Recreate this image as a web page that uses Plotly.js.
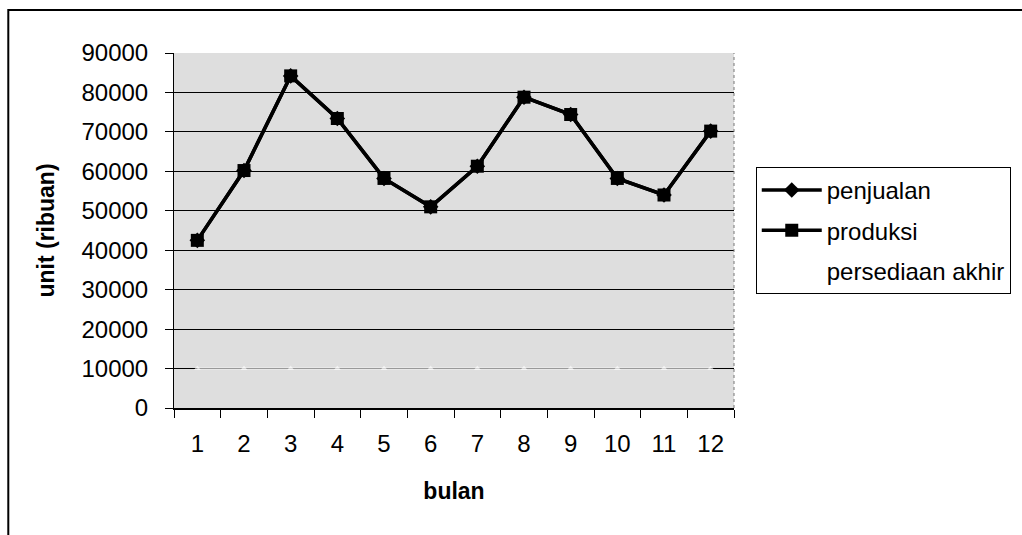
<!DOCTYPE html>
<html><head><meta charset="utf-8">
<script src="https://cdn.plot.ly/plotly-3.0.1.min.js"></script>
<style>body{margin:0;background:#fff}#c{width:1022px;height:535px}</style>
</head><body><div id="c"></div>
<script>
const months = ['1','2','3','4','5','6','7','8','9','10','11','12'];
const penjualan = [42500, 60200, 84200, 73400, 58200, 51000, 61300, 78800, 74400, 58200, 54000, 70200];
const produksi = [42500, 60200, 84200, 73400, 58200, 51000, 61300, 78800, 74400, 58200, 54000, 70200];
const persediaanAkhir = [10000, 10000, 10000, 10000, 10000, 10000, 10000, 10000, 10000, 10000, 10000, 10000];
const yTicks = [0,10000,20000,30000,40000,50000,60000,70000,80000,90000];

const F = 'Arial, "Liberation Sans", sans-serif';
const traces = [
  {x: months, y: penjualan, name: 'penjualan', legendgroup: 'a', type: 'scatter', mode: 'lines+markers',
   line: {color: '#000', width: 3.5}, marker: {symbol: 'diamond', size: 12, color: '#000'}},
  {x: months, y: produksi, name: 'produksi', legendgroup: 'b', type: 'scatter', mode: 'lines+markers',
   line: {color: '#000', width: 3.5}, marker: {symbol: 'square', size: 13, color: '#000'}},
  {x: months, y: persediaanAkhir, name: 'persediaan akhir', legendgroup: 'c', type: 'scatter', mode: 'lines+markers',
   line: {color: 'rgba(255,255,255,0.6)', width: 2}, marker: {symbol: 'triangle-up', size: 6, color: 'rgba(255,255,255,0.6)'}}
];
const layout = {
  width: 1022, height: 535,
  margin: {l: 174, r: 287, t: 53, b: 127},
  paper_bgcolor: '#fff', plot_bgcolor: '#dedede',
  font: {family: F, size: 24, color: '#000'},
  showlegend: true,
  legend: {x: 1.037, y: 0.679, xanchor: 'left', yanchor: 'top', bgcolor: '#fff',
           bordercolor: '#000', borderwidth: 1, font: {family: F, size: 24, color: '#000'},
           itemwidth: 60, traceorder: 'grouped', tracegroupgap: 6},
  xaxis: {type: 'category', tickson: 'boundaries', ticks: 'outside', ticklen: 8, tickcolor: '#000',
          showline: true, linecolor: '#000', linewidth: 2, showgrid: false, zeroline: false,
          range: [-0.5, 11.5], tickfont: {family: F, size: 24}, ticklabelstandoff: 13,
          title: {text: '<b>bulan</b>', font: {family: F, size: 23}, standoff: 27}},
  yaxis: {range: [0, 90000], tickvals: yTicks, ticktext: yTicks.map(String), ticks: 'outside', ticklen: 8,
          tickcolor: '#000', showline: true, linecolor: '#000', linewidth: 1, showgrid: true,
          gridcolor: '#000', gridwidth: 1, zeroline: false, tickfont: {family: F, size: 24},
          ticklabelstandoff: 12,
          title: {text: '<b>unit (ribuan)</b>', font: {family: F, size: 23}, standoff: 20}},
  shapes: [
    {type: 'rect', xref: 'paper', yref: 'paper', x0: -0.2959, x1: 1.7, y0: -0.6, y1: 1.121,
     line: {color: '#000', width: 2}, fillcolor: 'rgba(0,0,0,0)', layer: 'below'},
    {type: 'line', xref: 'paper', yref: 'paper', x0: 1, x1: 1, y0: 0, y1: 1,
     line: {color: '#777', width: 1, dash: 'dot'}}
  ]
};
Plotly.newPlot('c', traces, layout, {displayModeBar: false});
</script></body></html>
